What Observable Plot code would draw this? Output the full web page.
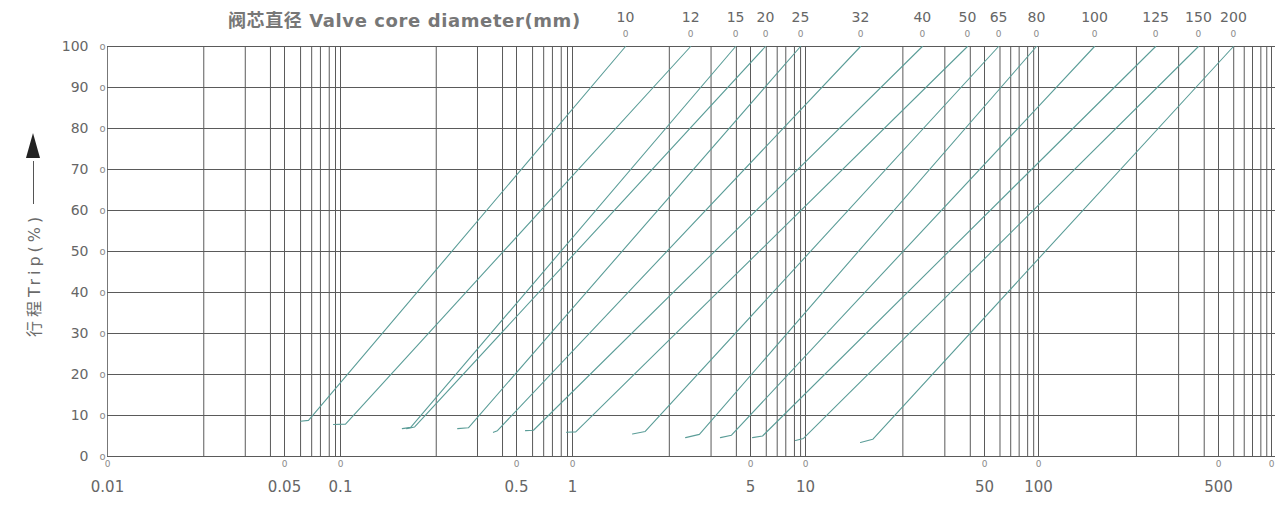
<!DOCTYPE html>
<html>
<head>
<meta charset="utf-8">
<script src="https://cdn.jsdelivr.net/npm/d3@7"></script>
<script src="https://cdn.jsdelivr.net/npm/@observablehq/plot@0.6"></script>
<style>
  html, body { margin: 0; padding: 0; background: #fff; }
  #wrap { position: relative; width: 1280px; height: 510px; overflow: hidden; }
  #title {
    position: absolute; left: 228px; top: 6px;
    font: bold 18px "DejaVu Sans", "Noto Sans CJK SC", sans-serif;
    color: #777; white-space: nowrap; letter-spacing: 0.6px;
  }
  #ylab {
    position: absolute; left: -72px; top: 222px; width: 210px; height: 20px;
    transform: rotate(-90deg); transform-origin: 50% 50%;
    display: flex; align-items: center;
    font: 16px "DejaVu Sans", "Noto Sans CJK SC", sans-serif; color: #6a6a6a;
    white-space: nowrap; letter-spacing: 4px;
  }
  #ylab .bar { display: inline-block; width: 43px; height: 1px; background: #555; margin-left: 9px; }
  #ylab .arr { display: inline-block; width: 0; height: 0; border-left: 25px solid #222;
    border-top: 7px solid transparent; border-bottom: 7px solid transparent; margin-left: 3px; }
</style>
</head>
<body>
<div id="wrap">
  <div id="chart"></div>
  <div id="title">阀芯直径 Valve core diameter(mm)</div>
  <div id="ylab"><span>行程Trip(%)</span><span class="bar"></span><span class="arr"></span></div>
</div>
<script>
// Valve core diameters (mm), one curve each
const diameters = ["10", "12", "15", "20", "25", "32", "40", "50", "65", "80", "100", "125", "150", "200"];
// Curve start (lower end)
const startX    = [0.061, 0.0917, 0.176, 0.183, 0.292, 0.405, 0.559, 0.928, 1.72, 2.78, 3.81, 5.13, 8.82, 16.4];
const startTrip = [8.6, 7.8, 6.8, 6.8, 6.8, 5.9, 6.3, 5.9, 5.5, 4.6, 4.6, 4.6, 3.9, 3.4];
// Knee just after the flat start
const kneeX     = [0.0673, 0.1047, 0.190, 0.197, 0.322, 0.420, 0.617, 1.03, 1.93, 3.15, 4.21, 5.82, 9.75, 18.3];
const kneeTrip  = [8.8, 7.9, 7.1, 7.2, 7.0, 6.3, 6.4, 6.0, 6.1, 5.4, 5.2, 5.0, 4.4, 4.2];
// Where each curve reaches 100 % trip
const topX      = [1.615, 2.91, 4.37, 6.04, 9.39, 16.4, 28.6, 42.9, 59.9, 97.4, 165, 285, 418, 608];

// Axes
const tripTicks   = [0, 10, 20, 30, 40, 50, 60, 70, 80, 90, 100];
const xTickValues = [0.01, 0.05, 0.1, 0.5, 1, 5, 10, 50, 100, 500, 1000];
const xTickLabels = ["0.01", "0.05", "0.1", "0.5", "1", "5", "10", "50", "100", "500", ""];
// vertical grid lines per decade (as printed on the chart)
const gridMultipliers = [2.4, 3.5, 4.4, 5, 6.1, 7, 7.8, 8.7, 9.4, 10];
const gridDecades     = [0.01, 0.1, 1, 10, 100];

const rows = diameters.flatMap((d, i) => [
  {d, x: startX[i], y: startTrip[i]},
  {d, x: kneeX[i], y: kneeTrip[i]},
  {d, x: topX[i], y: 100}
]);
const tops = diameters.map((d, i) => ({d, x: topX[i]}));
const gridX = gridDecades.flatMap(dec => gridMultipliers.map(m => +(dec * m).toPrecision(4)));
const xTicks = xTickValues.map((v, i) => ({v, label: xTickLabels[i]}));

const gridColor = "#5a5a5a";
const textColor = "#666";
const lineColor = "#5b9d98";

const chart = Plot.plot({
  width: 1280,
  height: 510,
  marginTop: 46,
  marginBottom: 54,
  marginLeft: 107,
  marginRight: 5,
  style: {background: "transparent", fontFamily: "'DejaVu Sans', sans-serif", overflow: "visible"},
  x: {
    type: "log",
    domain: xTickValues,
    range: [107, 284, 340, 516, 572, 750, 805, 984, 1038, 1218, 1271],
    axis: null
  },
  y: {domain: [0, 100], axis: null},
  marks: [
    Plot.ruleX(gridX, {y1: 0, y2: 100, stroke: gridColor, strokeWidth: 1}),
    Plot.ruleX([0.01], {y1: 0, y2: 100, stroke: "#777", strokeWidth: 1}),
    Plot.ruleY(tripTicks, {stroke: gridColor, strokeWidth: 1.2}),
    Plot.line(rows, {x: "x", y: "y", z: "d", stroke: lineColor, strokeWidth: 1.1}),
    // top diameter labels and their end markers
    Plot.text(tops, {x: "x", y: () => 100, text: "d", dy: -29, fill: textColor, fontSize: 14}),
    Plot.text(tops, {x: "x", y: () => 100, text: () => "0", dy: -12, fill: "#8a8a8a", fontSize: 9}),
    // y tick labels and markers
    Plot.text(tripTicks, {y: d => d, text: d => String(d), frameAnchor: "left", textAnchor: "end", dx: -19, fill: textColor, fontSize: 14}),
    Plot.text(tripTicks, {y: d => d, text: () => "o", frameAnchor: "left", dx: -8, fill: "#8a8a8a", fontSize: 10}),
    // x tick markers and labels
    Plot.text(xTicks, {x: "v", text: () => "0", frameAnchor: "bottom", dy: 10, fill: "#8a8a8a", fontSize: 9}),
    Plot.text(xTicks, {x: "v", text: "label", frameAnchor: "bottom", dy: 35, fill: textColor, fontSize: 15})
  ]
});
document.getElementById("chart").appendChild(chart);
</script>
</body>
</html>
